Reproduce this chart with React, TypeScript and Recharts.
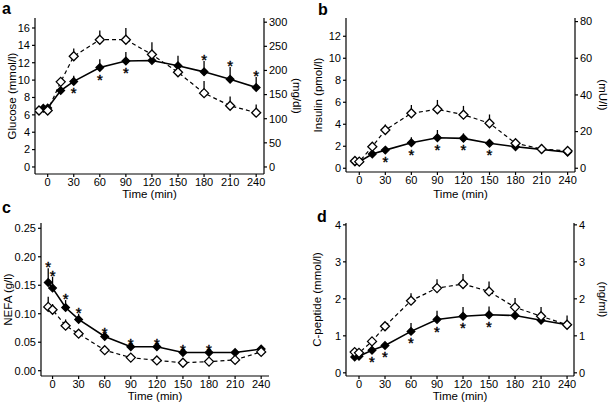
import React from 'react';
import { ComposedChart, Line, XAxis, YAxis, ErrorBar } from 'recharts';

const FONT = '"Liberation Sans", Arial, Helvetica, sans-serif';

const TIME_TICKS = [0, 30, 60, 90, 120, 150, 180, 210, 240];
const TIMES = [-5, 0, 15, 30, 60, 90, 120, 150, 180, 210, 240];
const TIMES_A_OPEN = [-10, 0, 15, 30, 60, 90, 120, 150, 180, 210, 240];

// a: glucose (mmol/l)
const glucoseFilled = [6.75, 6.8, 8.8, 9.85, 11.45, 12.2, 12.25, 11.65, 10.95, 10.1, 9.15];
const glucoseFilledErr = [0.45, 0.4, 0.3, 0.65, 0.95, 1.05, 0.3, 1.15, 1.25, 1.4, 1.2];
const glucoseOpen = [6.5, 6.5, 9.8, 12.75, 14.65, 14.65, 12.95, 10.9, 8.5, 7.05, 6.25];
const glucoseOpenErr = [0.2, 0.2, 0.3, 0.9, 1.05, 1.35, 1.4, 0.3, 1.4, 1.05, 0.95];
const glucoseStarsBelow = [30, 60, 90];
const glucoseStarsAbove = [180, 210, 240];

// b: insulin (pmol/l)
const insulinFilled = [0.6, 0.6, 1.3, 1.65, 2.32, 2.78, 2.72, 2.27, 1.96, 1.72, 1.45];
const insulinFilledErr = [0.1, 0.1, 0.2, 0.25, 0.5, 0.7, 0.45, 0.2, 0.2, 0.2, 0.15];
const insulinOpen = [0.66, 0.6, 1.96, 3.48, 5.0, 5.36, 4.87, 4.09, 2.27, 1.75, 1.57];
const insulinOpenErr = [0.1, 0.1, 0.3, 0.5, 0.75, 0.85, 0.8, 0.8, 0.3, 0.45, 0.2];
const insulinStarsBelow = [30, 60, 90, 120, 150];

// c: NEFA (g/l)
const nefaFilled = [0.155, 0.145, 0.111, 0.09, 0.06, 0.042, 0.042, 0.032, 0.032, 0.032, 0.038];
const nefaFilledErr = [0.025, 0.02, 0.013, 0.01, 0.005, 0.003, 0.003, 0.003, 0.003, 0.003, 0.003];
const nefaOpen = [0.112, 0.107, 0.079, 0.065, 0.036, 0.023, 0.018, 0.014, 0.016, 0.019, 0.033];
const nefaOpenErr = [0.018, 0.01, 0.011, 0.004, 0.003, 0.003, 0.003, 0.003, 0.003, 0.003, 0.003];
const nefaStarsAbove = [-5, 0, 15, 30, 60, 90, 120, 150, 180];

// d: C-peptide (mmol/l)
const cpepFilled = [0.43, 0.45, 0.61, 0.74, 1.12, 1.44, 1.53, 1.57, 1.55, 1.42, 1.3];
const cpepFilledErr = [0.05, 0.05, 0.08, 0.08, 0.23, 0.24, 0.25, 0.22, 0.05, 0.05, 0.05];
const cpepOpen = [0.56, 0.54, 0.85, 1.26, 1.95, 2.29, 2.4, 2.2, 1.77, 1.53, 1.3];
const cpepOpenErr = [0.05, 0.05, 0.1, 0.1, 0.2, 0.24, 0.27, 0.27, 0.25, 0.25, 0.25];
const cpepStarsBelow = [15, 30, 60, 90, 120, 150];

type Pt = { t: number; v: number; e: [number, number] };

const pts = (times: number[], values: number[], errs: number[]): Pt[] =>
  times.map((t, i) => ({ t, v: values[i], e: [0, errs[i]] }));

const diamond = (filled: boolean, r: number) => (props: any) => {
  const { cx, cy, index } = props;
  if (cx == null || cy == null) return <g key={index} />;
  return (
    <path
      key={index}
      d={`M${cx},${cy - r}L${cx + r},${cy}L${cx},${cy + r}L${cx - r},${cy}Z`}
      fill={filled ? '#000' : '#fff'}
      stroke="#000"
      strokeWidth={1.3}
    />
  );
};

// asterisk marking a significant difference, dy shifts the baseline from the point
const star = (dy: number) => (props: any) => {
  const { cx, cy, index } = props;
  if (cx == null || cy == null) return <g key={index} />;
  return (
    <text
      key={index}
      x={cx}
      y={cy + dy}
      textAnchor="middle"
      fontSize={15}
      fontFamily={FONT}
      fill="#000"
      stroke="#000"
      strokeWidth={0.4}
    >
      *
    </text>
  );
};

interface PanelProps {
  letter: string;
  letterPos: [number, number];
  left: number;
  top: number;
  width: number;
  margin: { top: number; right: number; bottom: number; left: number };
  leftWidth: number;
  rightWidth?: number;
  xHeight: number;
  xTickMargin: number;
  xDomain: [number, number];
  yDomain: [number, number];
  yTicks: number[];
  yFormat?: (v: number) => string;
  rightFactor?: number;
  rightTicks?: number[];
  yLabel: string;
  yLabelOffset: number;
  rightLabel?: string;
  rightLabelOffset?: number;
  xLabelOffset: number;
  filled: Pt[];
  open: Pt[];
  starsAbove?: number[];
  starsBelow?: number[];
}

const tickStyle = { fill: '#000', fontSize: 11, fontFamily: FONT };
const labelStyle = { fill: '#000', fontSize: 11.5, fontFamily: FONT, textAnchor: 'middle' as const };

const Panel: React.FC<PanelProps> = (p) => {
  const above = p.filled
    .filter((d) => (p.starsAbove || []).includes(d.t))
    .map((d) => ({ t: d.t, v: d.v + d.e[1] }));
  const below = p.filled
    .filter((d) => (p.starsBelow || []).includes(d.t))
    .map((d) => ({ t: d.t, v: d.v }));

  return (
    <div style={{ position: 'absolute', left: p.left, top: p.top, width: p.width, height: 203 }}>
      <ComposedChart width={p.width} height={203} margin={p.margin}>
        <XAxis
          dataKey="t"
          type="number"
          domain={p.xDomain}
          ticks={TIME_TICKS}
          allowDataOverflow
          stroke="#000"
          strokeWidth={1.2}
          tickSize={3}
          tickMargin={p.xTickMargin}
          height={p.xHeight}
          tick={tickStyle}
          label={{ value: 'Time (min)', position: 'insideBottom', offset: p.xLabelOffset, style: labelStyle }}
        />
        <YAxis
          yAxisId="l"
          type="number"
          domain={p.yDomain}
          ticks={p.yTicks}
          allowDataOverflow
          tickFormatter={p.yFormat}
          stroke="#000"
          strokeWidth={1.2}
          tickSize={3}
          width={p.leftWidth}
          tick={tickStyle}
          label={{ value: p.yLabel, angle: -90, position: 'insideLeft', offset: p.yLabelOffset, style: labelStyle }}
        />
        {p.rightFactor && (
          <YAxis
            yAxisId="r"
            orientation="right"
            type="number"
            domain={[p.yDomain[0] * p.rightFactor, p.yDomain[1] * p.rightFactor]}
            ticks={p.rightTicks}
            allowDataOverflow
            stroke="#000"
            strokeWidth={1.2}
            tickSize={3}
            width={p.rightWidth}
            tick={tickStyle}
            label={{ value: p.rightLabel, angle: 90, position: 'insideRight', offset: p.rightLabelOffset, style: labelStyle }}
          />
        )}
        <Line
          yAxisId="l"
          data={p.filled}
          dataKey="v"
          stroke="#000"
          strokeWidth={1.6}
          dot={diamond(true, 3.8)}
          activeDot={false}
          isAnimationActive={false}
        >
          <ErrorBar dataKey="e" width={0} stroke="#000" strokeWidth={1.3} direction="y" />
        </Line>
        <Line
          yAxisId="l"
          data={p.open}
          dataKey="v"
          stroke="#000"
          strokeWidth={1.2}
          strokeDasharray="4 3"
          dot={diamond(false, 4.5)}
          activeDot={false}
          isAnimationActive={false}
        >
          <ErrorBar dataKey="e" width={0} stroke="#000" strokeWidth={1.3} direction="y" />
        </Line>
        <Line
          yAxisId="l"
          data={above}
          dataKey="v"
          stroke="none"
          dot={star(4)}
          activeDot={false}
          isAnimationActive={false}
        />
        <Line
          yAxisId="l"
          data={below}
          dataKey="v"
          stroke="none"
          dot={star(17)}
          activeDot={false}
          isAnimationActive={false}
        />
      </ComposedChart>
      <div
        style={{
          position: 'absolute',
          left: p.letterPos[0],
          top: p.letterPos[1],
          fontFamily: FONT,
          fontWeight: 'bold',
          fontSize: 16,
          lineHeight: 'normal',
        }}
      >
        {p.letter}
      </div>
    </div>
  );
};

export default function App() {
  return (
    <div style={{ position: 'absolute', left: 0, top: 0, width: 609, height: 406, background: '#fff' }}>
      <Panel
        letter="a"
        letterPos={[2, 0]}
        left={0}
        top={0}
        width={305}
        margin={{ top: 18, right: 1, bottom: 0, left: 0 }}
        leftWidth={35}
        rightWidth={40}
        xHeight={29}
        xTickMargin={1}
        xDomain={[-14.6, 249]}
        yDomain={[-0.81, 17.15]}
        yTicks={[0, 2, 4, 6, 8, 10, 12, 14, 16]}
        rightFactor={18}
        rightTicks={[0, 50, 100, 150, 200, 250, 300]}
        yLabel="Glucose (mmol/l)"
        yLabelOffset={12}
        rightLabel="(mg/dl)"
        rightLabelOffset={7}
        xLabelOffset={5}
        filled={pts(TIMES, glucoseFilled, glucoseFilledErr)}
        open={pts(TIMES_A_OPEN, glucoseOpen, glucoseOpenErr)}
        starsAbove={glucoseStarsAbove}
        starsBelow={glucoseStarsBelow}
      />
      <Panel
        letter="b"
        letterPos={[13, 1]}
        left={305}
        top={0}
        width={304}
        margin={{ top: 18, right: 0, bottom: 0, left: 0 }}
        leftWidth={41}
        rightWidth={34}
        xHeight={31}
        xTickMargin={1}
        xDomain={[-15.3, 248.5]}
        yDomain={[-0.34, 13.66]}
        yTicks={[0, 2, 4, 6, 8, 10, 12]}
        rightFactor={6}
        rightTicks={[0, 20, 40, 60, 80]}
        yLabel="Insulin (pmol/l)"
        yLabelOffset={13}
        rightLabel="(mU/l)"
        rightLabelOffset={6}
        xLabelOffset={5}
        filled={pts(TIMES, insulinFilled, insulinFilledErr)}
        open={pts(TIMES, insulinOpen, insulinOpenErr)}
        starsBelow={insulinStarsBelow}
      />
      <Panel
        letter="c"
        letterPos={[2, -4]}
        left={0}
        top={203}
        width={305}
        margin={{ top: 20, right: 36, bottom: 0, left: 0 }}
        leftWidth={41}
        xHeight={30}
        xTickMargin={1}
        xDomain={[-13.3, 249]}
        yDomain={[-0.0093, 0.2593]}
        yTicks={[0, 0.05, 0.1, 0.15, 0.2, 0.25]}
        yFormat={(v) => v.toFixed(2)}
        yLabel="NEFA (g/l)"
        yLabelOffset={8}
        xLabelOffset={6}
        filled={pts(TIMES, nefaFilled, nefaFilledErr)}
        open={pts(TIMES, nefaOpen, nefaOpenErr)}
        starsAbove={nefaStarsAbove}
      />
      <Panel
        letter="d"
        letterPos={[12, 5]}
        left={305}
        top={203}
        width={304}
        margin={{ top: 20, right: 0, bottom: 0, left: 0 }}
        leftWidth={41}
        rightWidth={35}
        xHeight={30}
        xTickMargin={1}
        xDomain={[-15, 248]}
        yDomain={[-0.086, 4.05]}
        yTicks={[0, 1, 2, 3, 4]}
        rightFactor={1}
        rightTicks={[0, 1, 2, 3, 4]}
        yLabel="C-peptide (mmol/l)"
        yLabelOffset={12}
        rightLabel="(ng/ml)"
        rightLabelOffset={6}
        xLabelOffset={6}
        filled={pts(TIMES, cpepFilled, cpepFilledErr)}
        open={pts(TIMES, cpepOpen, cpepOpenErr)}
        starsBelow={cpepStarsBelow}
      />
    </div>
  );
}
